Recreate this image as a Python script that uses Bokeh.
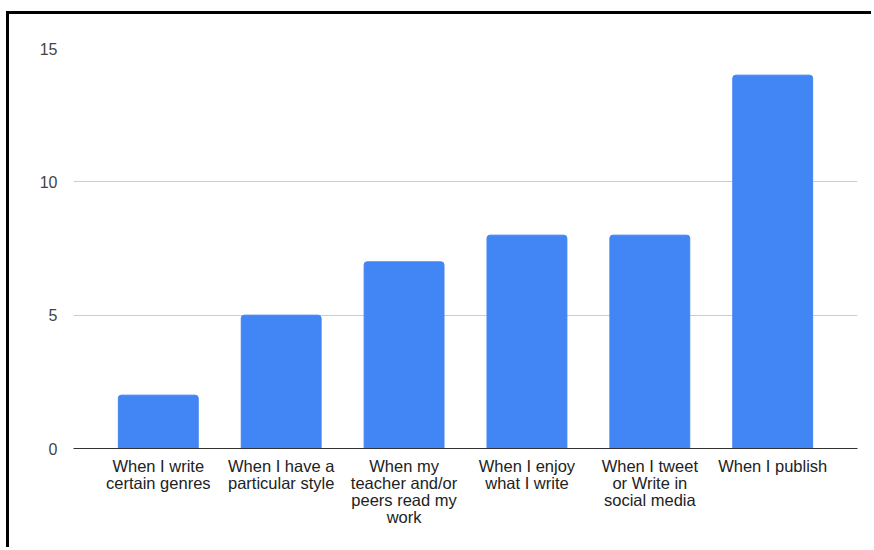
from bokeh.plotting import figure
from bokeh.models import Range1d, FixedTicker
from bokeh.embed import file_html
from bokeh.resources import INLINE

categories = [
    "When I write\ncertain genres",
    "When I have a\nparticular style",
    "When my\nteacher and/or\npeers read my\nwork",
    "When I enjoy\nwhat I write",
    "When I tweet\nor Write in\nsocial media",
    "When I publish",
]
values = [2, 5, 7, 8, 8, 14]
y_ticks = [0, 5, 10, 15]

xs = list(range(len(categories)))

p = figure(width=865, height=536, output_backend="svg", toolbar_location=None,
           x_range=Range1d(-0.69, len(categories) - 1 + 0.69),
           y_range=Range1d(0, 15),
           min_border_left=64, min_border_right=17, min_border_top=34, min_border_bottom=102,
           styles={"border-left": "3px solid black", "border-top": "3px solid black",
                   "margin-left": "6px", "margin-top": "11px"})
p.outline_line_color = None
p.background_fill_color = "white"
p.border_fill_color = "white"

p.vbar(x=xs, top=values, width=0.65, bottom=0, color="#4285F4", border_radius=[3, 3, 0, 0])

p.xaxis.ticker = FixedTicker(ticks=xs)
p.xaxis.major_label_overrides = {i: c for i, c in enumerate(categories)}
p.xaxis.major_tick_line_color = None
p.xaxis.minor_tick_line_color = None
p.xaxis.axis_line_color = "#333333"
p.xaxis.axis_line_width = 1
p.xaxis.major_label_text_font = "Liberation Sans"
p.xaxis.major_label_text_font_size = "16.5px"
p.xaxis.major_label_text_line_height = 0.95
p.xaxis.major_label_text_color = "#222222"
p.xaxis.major_label_standoff = 2

p.yaxis.ticker = FixedTicker(ticks=y_ticks)
p.yaxis.axis_line_color = None
p.yaxis.major_tick_line_color = None
p.yaxis.minor_tick_line_color = None
p.yaxis.major_label_text_font = "Liberation Sans"
p.yaxis.major_label_text_font_size = "16px"
p.yaxis.major_label_text_color = "#444444"
p.yaxis.major_label_standoff = 10

p.xgrid.grid_line_color = None
p.ygrid.ticker = FixedTicker(ticks=[5, 10, 15])
p.ygrid.grid_line_color = "#cccccc"

open("out.html", "w").write(file_html(p, INLINE))
